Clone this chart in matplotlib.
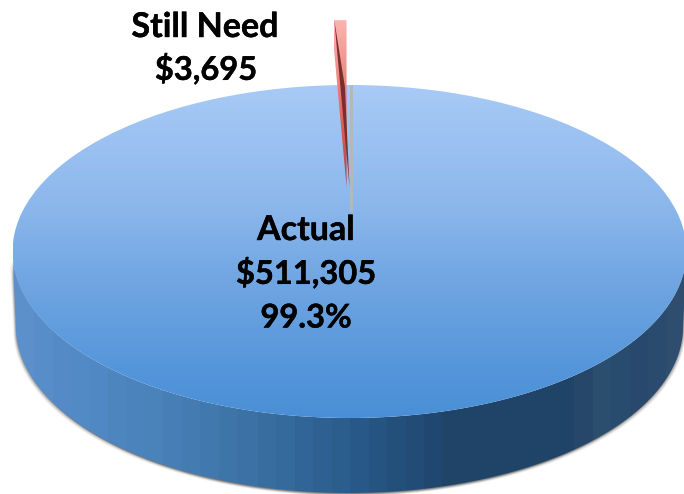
import numpy as np
import matplotlib
matplotlib.use('Agg')
import matplotlib.pyplot as plt
import matplotlib.patheffects as pe
from matplotlib.colors import LinearSegmentedColormap
from matplotlib.patches import Polygon, Circle

labels = ['Still Need', 'Actual']
values = [3695, 511305]
explode = [0.39, 0]

# pixel geometry of the flattened pie
W, H = 684, 494
CX, CY, RX, RY = 349.5, 251.5, 337.0, 166.5
DEPTH = 75 / RY
SIDE_RX = 0.99


def px(x):
    return (x - CX) / RX


def py(y):
    return (CY - y) / RY


fig = plt.figure(figsize=(W / 100, H / 100), dpi=100)
ax = fig.add_axes([0, 0, 1, 1])

wedges, _ = ax.pie(values, explode=explode, startangle=90, radius=1,
                   colors=['none', 'none'], wedgeprops={'linewidth': 0})
xlim = (px(0), px(W))
ylim = (py(H), py(0))

t = np.linspace(np.pi, 2 * np.pi, 200)
side_xy = np.vstack([
    np.column_stack([np.cos(t), np.sin(t)]),
    np.column_stack([SIDE_RX * np.cos(t[::-1]), np.sin(t[::-1]) - DEPTH]),
])

# soft shadow under the rim
for grow, alpha in [(6, 0.05), (5, 0.07), (4, 0.09), (3, 0.12), (2, 0.16), (1, 0.2)]:
    for sign in (-1, 1):
        shadow = side_xy + [sign * grow * 0.45 / RX, -grow * 0.5 / RY]
        ax.add_patch(Polygon(shadow, closed=True, fc='#555555', ec='none', alpha=alpha, zorder=1))

# side wall, shaded left to right with faint bands
side_cmap = LinearSegmentedColormap.from_list('side', [
    (0.00, '#5b90cb'), (0.10, '#5089c4'), (0.20, '#4a82ba'), (0.30, '#4077ab'),
    (0.40, '#356a9c'), (0.50, '#2a5b8b'), (0.58, '#234e7a'), (0.66, '#1f4468'),
    (0.84, '#1f4468'), (0.87, '#2d4a6c'), (0.90, '#2a5070'), (0.93, '#27496d'),
    (1.00, '#2f4d6f'),
], N=36)
side_patch = Polygon(side_xy, closed=True, fc='none', ec='none', zorder=2)
ax.add_patch(side_patch)
side_im = ax.imshow(np.linspace(0, 1, 256).reshape(1, -1), cmap=side_cmap, aspect='auto',
                    extent=(-1, 1, -1 - DEPTH, 0), zorder=2, interpolation='nearest')
side_im.set_clip_path(side_patch)

# top face, shaded top to bottom
top_cmap = LinearSegmentedColormap.from_list('top', [
    (0.0, '#a8caf6'), (0.35, '#8db8ec'), (0.6, '#6fa5e2'), (0.85, '#5596da'), (1.0, '#4a8fd6'),
])
top_clip = Circle((0, 0), 1, fc='none', ec='none', zorder=3)
ax.add_patch(top_clip)
top_im = ax.imshow(np.linspace(0, 1, 256).reshape(-1, 1), cmap=top_cmap, aspect='auto',
                   extent=(-1, 1, -1, 1), zorder=3)
top_im.set_clip_path(top_clip)

# exploded slice
frac = values[0] / sum(values)
a0 = np.pi / 2
a1 = a0 + 2 * np.pi * frac
off = explode[0]
slice_wedge = wedges[0]
slice_wedge.set_zorder(5)
tip = np.array([0, off])
left = tip + [np.cos(a1), np.sin(a1)]
right = tip + [np.cos(a0), np.sin(a0)]

# grey shadow beside the slice
ax.add_patch(Polygon([[0, 1], [3 / RX, 1], [3 / RX, py(212)], [0, py(212)]],
                     closed=True, fc='#b4b8bc', ec='none', zorder=4))

slice_cmap = LinearSegmentedColormap.from_list('slice', [
    (0.0, '#fbb4b0'), (0.3, '#ef8f8a'), (0.6, '#db625e'), (1.0, '#b8413d'),
])
slice_im = ax.imshow(np.linspace(0, 1, 128).reshape(-1, 1), cmap=slice_cmap, aspect='auto',
                     extent=(left[0], right[0], tip[1], 1 + off), zorder=5)
slice_im.set_clip_path(slice_wedge)

# dark inner wall of the slice
wall = [left, tip + (left - tip) * 0.6 + [4.5 / RX, 0], tip]
ax.add_patch(Polygon(wall, closed=True, fc='#7a2f2c', ec='none', zorder=6))

ax.set_aspect('auto')
ax.set_xlim(xlim)
ax.set_ylim(ylim)
ax.axis('off')

font = {'family': 'Lato', 'weight': 'bold', 'color': 'black', 'ha': 'center', 'va': 'center',
        'zorder': 8, 'path_effects': [pe.withStroke(linewidth=0.3, foreground='black')]}
ax.text(px(205), py(27), labels[0], fontsize=24.5, **font)
ax.text(px(206), py(69), f'${values[0]:,}', fontsize=23.5, **font)
ax.text(px(306), py(230), labels[1], fontsize=24.5, **font)
ax.text(px(306), py(273), f'${values[1]:,}', fontsize=23.5, **font)
ax.text(px(306), py(318), f'{values[1] / sum(values) * 100:.1f}%', fontsize=23.5, **font)

fig.savefig('out.png', dpi=100)
